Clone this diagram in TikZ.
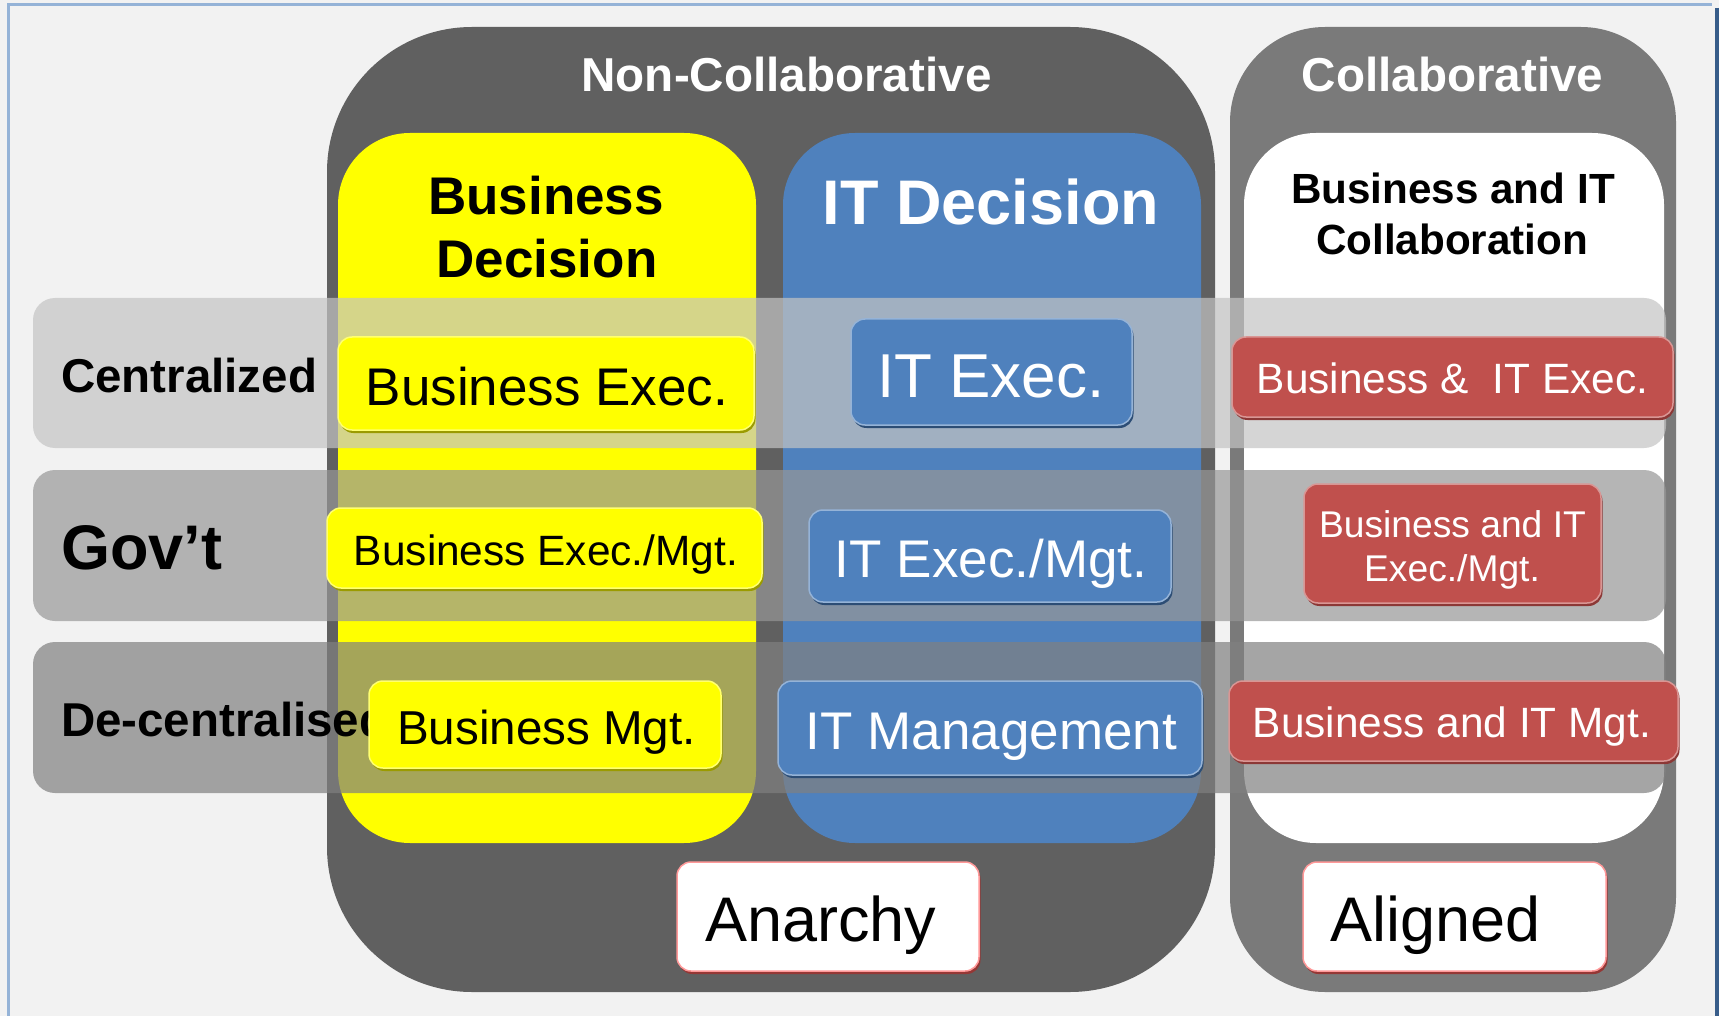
\documentclass[tikz,border=0pt]{standalone}
\usepackage{fontspec}
\setmainfont{Liberation Sans}
\usetikzlibrary{shadows}
\definecolor{bgc}{HTML}{F2F2F2}
\definecolor{framelight}{HTML}{95B3D7}
\definecolor{framedark}{HTML}{385D8A}
\definecolor{ncgray}{HTML}{606060}
\definecolor{cgray}{HTML}{7A7A7A}
\definecolor{colyellow}{HTML}{FFFF00}
\definecolor{colblue}{HTML}{4F81BD}
\definecolor{ylight}{HTML}{FFFF70}
\definecolor{ydark}{HTML}{9B9B00}
\definecolor{blight}{HTML}{95B3D7}
\definecolor{bdark}{HTML}{2C4D75}
\definecolor{rfill}{HTML}{C0504D}
\definecolor{rlight}{HTML}{D99694}
\definecolor{rdark}{HTML}{8C3836}
\definecolor{wlight}{HTML}{FF9999}
\definecolor{wdark}{HTML}{953735}
\definecolor{bandA}{RGB}{196,196,196}
\definecolor{bandB}{RGB}{151,151,151}
\definecolor{bandC}{RGB}{128,128,128}
\tikzset{
  every node/.style={inner sep=0pt, outer sep=0pt},
  fsz/.style={font=\fontsize{#1}{#1}\selectfont},
  bfsz/.style={font=\bfseries\fontsize{#1}{#1}\selectfont},
  grouptitle/.style={text=white, bfsz=47.6, anchor=base},
  rowlbl/.style={anchor=base west},
  band/.style={fill opacity=0.7, rounded corners=22pt},
  innerbox/.style={rectangle, rounded corners=14pt, line width=1.5pt},
  ybox/.style={innerbox, fill=colyellow, draw=ylight,
    drop shadow={shadow xshift=1.5pt, shadow yshift=-3pt, fill=ydark, opacity=1}},
  bbox/.style={innerbox, fill=colblue, draw=blight,
    drop shadow={shadow xshift=1.5pt, shadow yshift=-3pt, fill=bdark, opacity=1}},
  rbox/.style={innerbox, fill=rfill, draw=rlight,
    drop shadow={shadow xshift=1.5pt, shadow yshift=-3pt, fill=rdark, opacity=1}},
  wbox/.style={innerbox, fill=white, draw=wlight,
    drop shadow={shadow xshift=1.5pt, shadow yshift=-3pt, fill=wdark, opacity=1}},
  boxtxt/.style={anchor=base},
}
\begin{document}
\begin{tikzpicture}[x=1pt,y=-1pt]
\useasboundingbox (0,0) rectangle (1719,1016);
% background and frame
\fill[bgc] (0,0) rectangle (1719,1016);
\draw[framelight, line width=3pt] (8.5,1016) -- (8.5,4.5) -- (1712,4.5);
\draw[framedark, line width=4pt] (1717,8) -- (1717,1016);

% outer group boxes
\fill[ncgray, rounded corners=145pt] (327,27) rectangle (1215,992);
\fill[cgray, rounded corners=95pt] (1230,27) rectangle (1676,992);
\node[grouptitle] (nctitle) at (786.5,92) {Non-Collaborative};
\node[grouptitle] (ctitle) at (1452.5,92) {Collaborative};

% columns
\fill[colyellow, rounded corners=72pt] (338,133) rectangle (756,843);
\fill[colblue, rounded corners=72pt] (783,133) rectangle (1201,843);
\fill[white, rounded corners=72pt] (1244,133) rectangle (1664,843);
\node[boxtxt, bfsz=53] (bdA) at (546,215) {Business};
\node[boxtxt, bfsz=53] (bdB) at (547,278) {Decision};
\node[boxtxt, bfsz=63, text=white] (itd) at (991,225) {IT Decision};
\node[boxtxt, bfsz=42.2] (bicA) at (1453,204) {Business and IT};
\node[boxtxt, bfsz=42.2] (bicB) at (1452,255) {Collaboration};

% bands
\fill[band, bandA] (33,298) rectangle (1666,448);
\fill[band, bandB] (33,470) rectangle (1666,621);
\fill[band, bandC] (33,642) rectangle (1666,793);
\node[rowlbl, bfsz=47.5] (cen) at (61,392) {Centralized};
\node[rowlbl, bfsz=63] (gov) at (61,569) {Gov’t};
\node[rowlbl, bfsz=47.5] (dec) at (61,736) {De-centralised};

% yellow boxes
\node[ybox, minimum width=416pt, minimum height=93pt] (y1) at (546,383.5) {};
\node[ybox, minimum width=435pt, minimum height=80pt] (y2) at (544.5,548) {};
\node[ybox, minimum width=352pt, minimum height=87pt] (y3) at (545,724.5) {};
\node[boxtxt, fsz=53] (ty1) at (547,405) {Business Exec.};
\node[boxtxt, fsz=42.4] (ty2) at (546,565) {Business Exec./Mgt.};
\node[boxtxt, fsz=47.6] (ty3) at (546.5,744) {Business Mgt.};

% blue boxes
\node[bbox, minimum width=281pt, minimum height=106pt] (b1) at (991.5,372) {};
\node[bbox, minimum width=362pt, minimum height=92pt] (b2) at (990,556) {};
\node[bbox, minimum width=424pt, minimum height=94pt] (b3) at (990,728) {};
\node[boxtxt, fsz=62, text=white] (tb1) at (991,397) {IT Exec.};
\node[boxtxt, fsz=53, text=white] (tb2) at (991,577) {IT Exec./Mgt.};
\node[boxtxt, fsz=53, text=white] (tb3) at (991.5,749) {IT Management};

% red boxes
\node[rbox, minimum width=441pt, minimum height=80pt] (r1) at (1452.5,377) {};
\node[rbox, minimum width=297pt, minimum height=119pt] (r2) at (1452.5,543.5) {};
\node[rbox, minimum width=449pt, minimum height=80pt] (r3) at (1453.5,721) {};
\node[boxtxt, fsz=42.4, text=white] (tr1) at (1452.5,393) {Business \& \ IT Exec.};
\node[boxtxt, fsz=37.2, text=white] (tr2a) at (1452.5,537) {Business and IT};
\node[boxtxt, fsz=37.2, text=white] (tr2b) at (1452,581) {Exec./Mgt.};
\node[boxtxt, fsz=42.4, text=white] (tr3) at (1452,737) {Business and IT Mgt.};

% outcome boxes
\node[wbox, minimum width=302pt, minimum height=109pt] (w1) at (828,916.5) {};
\node[wbox, minimum width=303pt, minimum height=109pt] (w2) at (1454.5,916.5) {};
\node[anchor=base west, fsz=63] (tw1) at (705,941) {Anarchy};
\node[anchor=base west, fsz=63] (tw2) at (1330,941) {Aligned};
\end{tikzpicture}
\end{document}
